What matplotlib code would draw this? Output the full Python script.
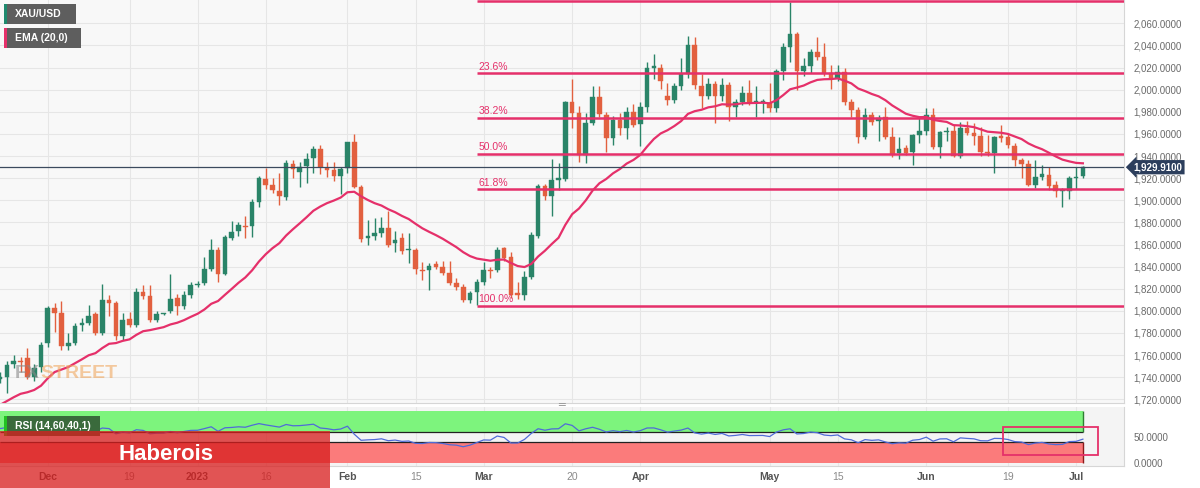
import numpy as np
import pandas as pd
import matplotlib
matplotlib.use('Agg')
import matplotlib.pyplot as plt
from matplotlib.patches import Rectangle
from matplotlib.transforms import blended_transform_factory

plt.rcParams['font.family'] = ['Liberation Sans', 'DejaVu Sans']

# ---------------- data ----------------
dates = [d for d in pd.bdate_range('2022-11-22', '2023-07-04')
         if d != pd.Timestamp('2023-04-07')]

opens = [1738, 1740, 1752, 1755, 1757, 1740, 1749,
         1771, 1803, 1798, 1768, 1771, 1787, 1789, 1797, 1780, 1810, 1807, 1777, 1793, 1787,
         1817, 1813, 1792, 1797, 1800, 1812, 1804, 1814,
         1823, 1825, 1838, 1855, 1833, 1866, 1872, 1877, 1877, 1898, 1919, 1914, 1908, 1903,
         1933, 1926, 1931, 1938, 1946, 1929, 1927, 1922,
         1929, 1953, 1912, 1866, 1868, 1870, 1875, 1861, 1866, 1855, 1855, 1837, 1837, 1842,
         1840, 1834, 1825, 1822, 1810, 1817,
         1826, 1837, 1837, 1857, 1849, 1816, 1814, 1831, 1868, 1913, 1904, 1918, 1919, 1989,
         1979, 1941, 1970, 1993, 1977, 1956, 1973, 1965, 1980,
         1969, 1984, 2020, 2020, 1994, 1991, 2003, 2014, 2040, 2003, 1994, 2005, 1994, 2004,
         1984, 1989, 1997, 1989, 1989,
         1988, 1983, 2017, 2039, 2050, 2017, 2021, 2034, 2030, 2015, 2011, 2016, 1989, 1982,
         1957, 1977, 1972, 1975, 1957, 1943, 1947, 1944, 1959,
         1963, 1977, 1948, 1962, 1963, 1940, 1965, 1961, 1958, 1944, 1943, 1958, 1957, 1949,
         1936, 1933, 1914, 1921, 1923, 1914, 1908, 1908,
         1920, 1922]
highs = [1745, 1755, 1760, 1758, 1766, 1752, 1772,
         1804, 1807, 1809, 1780, 1789, 1794, 1805, 1799, 1824, 1814, 1809, 1798, 1799, 1821,
         1823, 1823, 1800, 1798, 1833, 1815, 1818, 1826,
         1827, 1849, 1865, 1858, 1869, 1881, 1880, 1886, 1901, 1922, 1929, 1920, 1925, 1936,
         1936, 1935, 1943, 1949, 1950, 1935, 1935, 1930,
         1953, 1960, 1914, 1882, 1884, 1885, 1890, 1872, 1870, 1870, 1857, 1844, 1843, 1845,
         1845, 1845, 1830, 1824, 1818, 1829,
         1844, 1840, 1858, 1858, 1853, 1826, 1836, 1871, 1915, 1915, 1937, 1934, 1990, 2010,
         1985, 1979, 2003, 2003, 1980, 1976, 1979, 1984, 1987,
         1989, 2025, 2032, 2023, 2006, 2006, 2029, 2049, 2048, 2014, 2011, 2008, 2011, 2007,
         1992, 2003, 2009, 2003, 1992,
         2006, 2019, 2042, 2079, 2052, 2029, 2037, 2048, 2042, 2022, 2022, 2020, 1992, 1984,
         1983, 1980, 1977, 1984, 1966, 1957, 1950, 1960, 1975,
         1983, 1983, 1963, 1966, 1968, 1971, 1972, 1970, 1966, 1959, 1958, 1968, 1960, 1952,
         1938, 1936, 1936, 1932, 1930, 1917, 1911, 1922,
         1930, 1931]
lows = [1735, 1726, 1748, 1745, 1738, 1737, 1745,
        1767, 1781, 1765, 1765, 1769, 1782, 1787, 1778, 1778, 1795, 1774, 1774, 1785, 1785,
        1811, 1790, 1790, 1796, 1798, 1796, 1802, 1812,
        1822, 1823, 1836, 1826, 1832, 1864, 1868, 1866, 1867, 1894, 1910, 1907, 1896, 1900,
        1920, 1912, 1916, 1925, 1924, 1921, 1917, 1906,
        1925, 1911, 1862, 1860, 1864, 1867, 1858, 1853, 1851, 1843, 1833, 1828, 1819, 1838,
        1832, 1823, 1819, 1808, 1807, 1805,
        1823, 1830, 1835, 1845, 1812, 1811, 1810, 1829, 1866, 1900, 1886, 1909, 1917, 1965,
        1935, 1934, 1968, 1975, 1944, 1950, 1959, 1955, 1966,
        1949, 1980, 2010, 2001, 1986, 1988, 2000, 2011, 2001, 1983, 1992, 1970, 1990, 1972,
        1975, 1986, 1986, 1975, 1979,
        1980, 1980, 2009, 2025, 2000, 2012, 2015, 2027, 2012, 2001, 2008, 1986, 1975, 1952,
        1955, 1968, 1954, 1955, 1939, 1937, 1941, 1932, 1952,
        1959, 1946, 1938, 1954, 1939, 1938, 1959, 1950, 1940, 1940, 1925, 1953, 1947, 1931,
        1920, 1913, 1911, 1918, 1909, 1903, 1894, 1901,
        1910, 1920]
closes = [1740, 1751, 1755, 1754, 1740, 1748, 1769,
          1803, 1798, 1768, 1771, 1786, 1789, 1795, 1780, 1810, 1807, 1777, 1792, 1787, 1817,
          1813, 1792, 1797, 1797.5, 1811, 1804, 1814, 1823,
          1824, 1838, 1855, 1833, 1867, 1871, 1878, 1876, 1898, 1920, 1914, 1909, 1904, 1934,
          1928, 1930, 1937, 1946, 1930, 1927, 1922, 1928,
          1953, 1912, 1865, 1868, 1870, 1875, 1860, 1864, 1854, 1856, 1838, 1836, 1841, 1840,
          1834, 1825, 1822, 1810, 1816, 1826,
          1837, 1836, 1855, 1848, 1814, 1814, 1831, 1869, 1913, 1904, 1918, 1920, 1989, 1979,
          1941, 1970, 1993, 1978, 1956, 1973, 1965, 1980, 1968,
          1984, 2020, 2021, 2008, 1991, 2003, 2014, 2040, 2004, 1994, 2005, 1994, 2004, 1984,
          1989, 1997, 1989, 1989.5, 1990,
          1983, 2017, 2039, 2050, 2017, 2021, 2034, 2030, 2015, 2011, 2016, 1989, 1982, 1957,
          1977, 1971, 1974, 1957, 1941, 1946, 1943, 1959, 1963,
          1977, 1948, 1962, 1963, 1940, 1965, 1961, 1958, 1944, 1943, 1957, 1956, 1950, 1936,
          1933, 1914, 1921, 1924, 1913, 1908, 1909, 1920,
          1921, 1929.91]

# closes before the visible window (indicator warm-up only)
prior_closes = [1702, 1725, 1716, 1712, 1695, 1668, 1666, 1673, 1666, 1644, 1650, 1652,
                1629, 1627, 1657, 1649, 1652, 1665, 1663, 1645, 1633, 1647, 1635, 1629,
                1675, 1670, 1700, 1698, 1740, 1755, 1760, 1765, 1762, 1752, 1744, 1735]

fib_high = 2079.76
fib_low = 1804.76
fib_start = '2023-02-28'
fib_levels = [0.0, 23.6, 38.2, 50.0, 61.8, 100.0]

tick_dates = ['2022-12-01', '2022-12-19', '2023-01-02', '2023-01-16', '2023-02-01',
              '2023-02-15', '2023-03-01', '2023-03-20', '2023-04-03', '2023-05-01',
              '2023-05-15', '2023-06-01', '2023-06-19', '2023-07-03']
tick_labels = ['Dec', '19', '2023', '16', 'Feb', '15', 'Mar', '20', 'Apr', 'May',
               '15', 'Jun', '19', 'Jul']

rsi_upper, rsi_lower = 60, 40
box_from, box_to = '2023-06-19', '2023-07-04'
box_rsi = (15, 69)

# ---------------- indicators ----------------
allc = pd.Series(prior_closes + closes, dtype=float)
ema = allc.ewm(span=20, adjust=False).mean().values[-len(closes):]
delta = allc.diff()
gain = delta.clip(lower=0).ewm(alpha=1 / 14, adjust=False).mean()
loss = (-delta.clip(upper=0)).ewm(alpha=1 / 14, adjust=False).mean()
rsi = (100 - 100 / (1 + gain / loss)).values[-len(closes):]

o = np.array(opens, float); h = np.array(highs, float)
l = np.array(lows, float); c = np.array(closes, float)
n = len(c)
pos = np.arange(n)
date_idx = {d.strftime('%Y-%m-%d'): i for i, d in enumerate(dates)}
tick_pos = [date_idx[d] for d in tick_dates]

# ---------------- figure ----------------
W, H = 1200, 488
fig = plt.figure(figsize=(W / 100, H / 100), dpi=100)
fig.patch.set_facecolor('white')


def fx(px):
    return px / W


def fy(py):
    return 1 - py / H


ax = fig.add_axes([0, fy(403), fx(1124), 403 / H])
axr = fig.add_axes([0, fy(466), fx(1124), 59 / H], sharex=ax)

GREEN = '#2a8468'
RED = '#e2603f'
PINK = '#e5306a'
GRID = '#e6e6e6'

ax.set_facecolor('#f8f8f8')
axr.set_facecolor('#f4f4f4')

x0 = pos[0] - 0.02
x1 = pos[0] + (1124 - 0.1) / 6.81
ax.set_xlim(x0, x1)
ax.set_ylim(1716.7, 2081.1)

# grid
yt = np.arange(1720, 2061, 20)
ax.set_yticks(yt)
ax.set_yticklabels([f'{v:,.4f}' for v in yt])
ax.set_xticks(tick_pos)
ax.grid(True, color=GRID, lw=0.8, zorder=0)
ax.set_axisbelow(True)

# candles
up = c >= o
col = np.where(up, GREEN, RED)
body_lo = np.minimum(o, c)
body_h = np.maximum(np.abs(c - o), 0.8)
ax.vlines(pos, l, h, colors=col, lw=1.0, zorder=3)
ax.bar(pos, body_h, bottom=body_lo, width=0.68, color=col, edgecolor=col, lw=0.3, zorder=4)

# EMA
ax.plot(pos, ema, color=PINK, lw=1.6, zorder=5)

# fibonacci
fs = date_idx[fib_start]
for lev in fib_levels:
    price = fib_high - (fib_high - fib_low) * lev / 100
    ax.hlines(price, fs, x1, colors=PINK, lw=1.8, zorder=5)
    if lev > 0:
        ax.text(fs + 0.2, price + 1.4, f'{lev:.1f}%', color=PINK, fontsize=7.5,
                ha='left', va='bottom', zorder=6)

# current price line and tag
last = c[-1]
ax.axhline(last, color='#3b4a5e', lw=0.9, zorder=5)
bt = blended_transform_factory(ax.transAxes, ax.transData)
ax.text(1.0085, last, f'{last:,.4f}', transform=bt, ha='left', va='center',
        color='white', fontsize=7, fontweight='bold', zorder=10, clip_on=False,
        bbox=dict(boxstyle='larrow,pad=0.22', fc='#2c3e5c', ec='none'))

ax.yaxis.tick_right()
ax.tick_params(axis='y', length=0, pad=7, labelsize=7, labelcolor='#6a6a6a')
ax.tick_params(axis='x', length=0, labelbottom=False)
for s in ['top', 'left']:
    ax.spines[s].set_visible(False)
for s in ['right', 'bottom']:
    ax.spines[s].set_color('#d6d6d6')

# ---------------- RSI panel ----------------
axr.set_ylim(-5.8, 107.7)
axr.fill_between([pos[0], pos[-1]], rsi_upper, 100, color='#7df47d', lw=0, zorder=1)
axr.fill_between([pos[0], pos[-1]], 0, rsi_lower, color='#fb7b7b', lw=0, zorder=1)
axr.hlines([rsi_upper, rsi_lower], pos[0], pos[-1], colors='#222222', lw=0.9, zorder=3)
axr.vlines(pos[-1], rsi_upper, 100, colors='#2e7d32', lw=1.0, zorder=3)
axr.vlines(pos[-1], 0, rsi_lower, colors='#8b1a1a', lw=1.0, zorder=3)
axr.plot(pos, rsi, color='#4f6bd8', lw=0.9, zorder=4)
bx0, bx1 = date_idx[box_from] - 0.7, date_idx[box_to] + 2.2
axr.add_patch(Rectangle((bx0, box_rsi[0]), bx1 - bx0, box_rsi[1] - box_rsi[0],
                        fill=False, ec=PINK, lw=1.3, zorder=6, clip_on=False))
axr.yaxis.tick_right()
axr.set_yticks([0, 50])
axr.set_yticklabels(['0.0000', '50.0000'])
axr.tick_params(axis='y', length=0, pad=7, labelsize=7, labelcolor='#6a6a6a')
axr.set_xticks(tick_pos)
axr.set_xticklabels(tick_labels)
axr.tick_params(axis='x', length=0, pad=4, labelsize=7.5)
for lab, txt in zip(axr.get_xticklabels(), tick_labels):
    if txt.isdigit() and len(txt) <= 2:
        lab.set_color('#8a8a8a')
    else:
        lab.set_color('#555555')
        lab.set_fontweight('bold')
axr.grid(True, axis='x', color=GRID, lw=0.8, zorder=0)
axr.set_axisbelow(True)
for s in ['top', 'left']:
    axr.spines[s].set_visible(False)
for s in ['right', 'bottom']:
    axr.spines[s].set_color('#d6d6d6')

# ---------------- overlays ----------------
def label_box(x0p, y0p, x1p, y1p, fc, stripe, text):
    fig.add_artist(Rectangle((fx(x0p), fy(y1p)), fx(x1p - x0p), (y1p - y0p) / H,
                             transform=fig.transFigure, fc=fc, ec='none', zorder=20))
    fig.add_artist(Rectangle((fx(x0p), fy(y1p)), fx(3), (y1p - y0p) / H,
                             transform=fig.transFigure, fc=stripe, ec='none', zorder=21))
    fig.text(fx(x0p + 11), fy((y0p + y1p) / 2), text, color='white', fontsize=7.5,
             fontweight='bold', ha='left', va='center', zorder=22)


label_box(4, 4, 76, 24, '#5e5e5e', '#1f8a6e', 'XAU/USD')
label_box(4, 28, 81, 48, '#5e5e5e', PINK, 'EMA (20,0)')
label_box(4, 416, 100, 436, '#3a6a3c', '#22c222', 'RSI (14,60,40,1)')

# watermark (two colours, placed side by side)
renderer = fig.canvas.get_renderer()
t_fx = fig.text(fx(15), fy(373), 'FX', color='#8a8a8a', alpha=0.6, fontsize=14,
                fontweight='bold', ha='left', va='center', zorder=2)
bb = t_fx.get_window_extent(renderer=renderer)
fig.text(bb.x1 / W + fx(1), fy(373), 'STREET', color='#f0a860', alpha=0.6, fontsize=14,
         fontweight='bold', ha='left', va='center', zorder=2)

# panel handle
fig.text(fx(562), fy(404.5), '\u2550', color='#9a9a9a', fontsize=8, ha='center',
         va='center', family=['DejaVu Sans'])

# brand box
fig.add_artist(Rectangle((0, 0), fx(330), (488 - 431) / H, transform=fig.transFigure,
                         fc='#d81e1e', ec='none', alpha=0.76, zorder=30))
fig.text(fx(166), fy(455), 'Haberois', color='white', fontsize=16, fontweight='bold',
         ha='center', va='center', zorder=31)

fig.savefig('out.png', dpi=100, facecolor='white')
